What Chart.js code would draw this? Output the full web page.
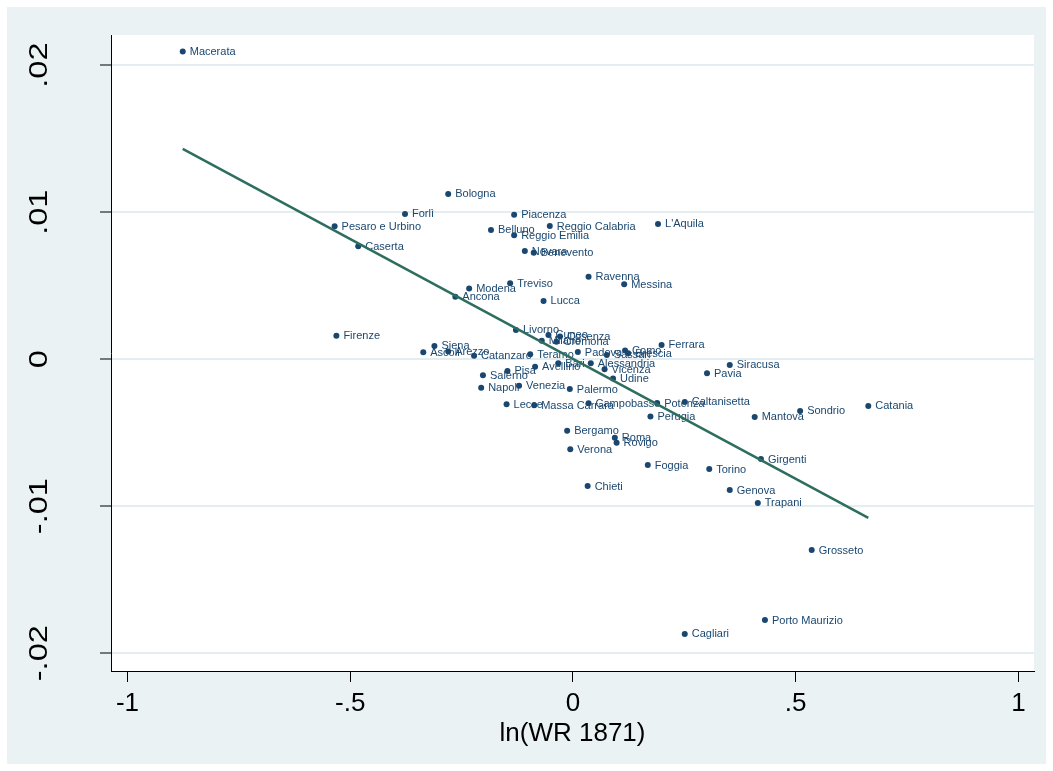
<!DOCTYPE html>
<html>
<head>
<meta charset="utf-8">
<script src="https://cdn.jsdelivr.net/npm/chart.js@4.4.0/dist/chart.umd.min.js"></script>
<style>
  html, body { margin: 0; padding: 0; background: #ffffff; }
  canvas { display: block; }
</style>
</head>
<body>
<canvas id="chart" width="1053" height="771"></canvas>
<script>
// Italian provinces: log wage ratio in 1871 against the outcome on the vertical axis
const provinces = [
  'Macerata', 'Bologna', 'Forlì', 'Pesaro e Urbino', 'Caserta', 'Piacenza', 'Belluno',
  'Reggio Emilia', 'Reggio Calabria', "L'Aquila", 'Novara', 'Benevento', 'Ravenna', 'Messina',
  'Treviso', 'Modena', 'Ancona', 'Lucca', 'Firenze', 'Siena', 'Ascoli', 'Arezzo',
  'Catanzaro', 'Livorno', 'Cuneo', 'Cosenza', 'Milano', 'Cremona', 'Teramo', 'Padova',
  'Sassari', 'Como', 'Brescia', 'Ferrara', 'Siracusa', 'Pavia', 'Bari', 'Alessandria',
  'Avellino', 'Vicenza', 'Udine', 'Pisa', 'Salerno', 'Napoli', 'Venezia', 'Palermo',
  'Lecce', 'Massa Carrara', 'Campobasso', 'Potenza', 'Caltanisetta', 'Perugia', 'Mantova',
  'Sondrio', 'Catania', 'Bergamo', 'Roma', 'Rovigo', 'Verona', 'Foggia', 'Torino',
  'Girgenti', 'Genova', 'Chieti', 'Trapani', 'Grosseto', 'Porto Maurizio', 'Cagliari'
];
const lnWR1871 = [
  -0.876, -0.280, -0.377, -0.535, -0.482, -0.132, -0.184,
  -0.132, -0.052, 0.191, -0.108, -0.088, 0.035, 0.115,
  -0.141, -0.233, -0.264, -0.066, -0.531, -0.311, -0.336, -0.280,
  -0.222, -0.128, -0.055, -0.029, -0.070, -0.037, -0.096, 0.011,
  0.076, 0.117, 0.124, 0.199, 0.352, 0.301, -0.033, 0.040,
  -0.085, 0.071, 0.090, -0.147, -0.202, -0.206, -0.121, -0.007,
  -0.149, -0.087, 0.035, 0.189, 0.251, 0.174, 0.408,
  0.510, 0.663, -0.013, 0.094, 0.098, -0.006, 0.168, 0.306,
  0.422, 0.352, 0.033, 0.415, 0.536, 0.431, 0.251
];
const outcome = [
  0.02092, 0.01124, 0.00988, 0.00904, 0.00768, 0.00983, 0.00879,
  0.00843, 0.00906, 0.00920, 0.00736, 0.00724, 0.00561, 0.00510,
  0.00516, 0.00481, 0.00425, 0.00396, 0.00160, 0.00090, 0.00047, 0.00052,
  0.00023, 0.00199, 0.00165, 0.00154, 0.00126, 0.00119, 0.00033, 0.00049,
  0.00029, 0.00059, 0.00040, 0.00097, -0.00039, -0.00096, -0.00028, -0.00028,
  -0.00051, -0.00068, -0.00131, -0.00080, -0.00110, -0.00194, -0.00180, -0.00203,
  -0.00306, -0.00314, -0.00300, -0.00298, -0.00291, -0.00390, -0.00393,
  -0.00352, -0.00318, -0.00486, -0.00535, -0.00568, -0.00613, -0.00720, -0.00747,
  -0.00679, -0.00890, -0.00863, -0.00978, -0.01298, -0.01774, -0.01869
];

// Fitted line, evaluated at the smallest and largest ln(WR 1871)
const fitX = [-0.876, 0.663];
const fitY = [0.0143, -0.0108];

const xTicks = [-1, -0.5, 0, 0.5, 1];
const xTickLabels = ['-1', '-.5', '0', '.5', '1'];
const yTicks = [-0.02, -0.01, 0, 0.01, 0.02];
const yTickLabels = ['-.02', '-.01', '0', '.01', '.02'];
const xTitle = 'ln(WR 1871)';

const FONT = '"Liberation Sans", Arial, sans-serif';
const NAVY = '#1a476f';

// Outer panel, plot-region fill
const panelBackground = {
  id: 'panelBackground',
  beforeDraw(chart) {
    const { ctx, chartArea: a, width, height } = chart;
    ctx.save();
    ctx.fillStyle = '#ffffff';
    ctx.fillRect(0, 0, width, height);
    ctx.fillStyle = '#eaf2f3';
    ctx.fillRect(7, 7, width - 14, height - 14);
    ctx.fillStyle = '#ffffff';
    ctx.fillRect(a.left, a.top, a.right - a.left, a.bottom - a.top);
    ctx.restore();
  }
};

// Province names to the right of each marker
const markerLabels = {
  id: 'markerLabels',
  afterDatasetDraw(chart, args) {
    if (args.index !== 0) return;
    const { ctx } = chart;
    const meta = args.meta;
    ctx.save();
    ctx.font = '11px ' + FONT;
    ctx.fillStyle = NAVY;
    ctx.textAlign = 'left';
    ctx.textBaseline = 'middle';
    meta.data.forEach((pt, i) => {
      ctx.fillText(provinces[i], pt.x + 7, pt.y + 0.5);
    });
    ctx.restore();
  }
};

// Vertical-axis tick labels, turned to read upward (slightly elongated glyphs)
const yTickText = {
  id: 'yTickText',
  afterDraw(chart) {
    const { ctx } = chart;
    const y = chart.scales.y;
    ctx.save();
    ctx.font = '26px ' + FONT;
    ctx.fillStyle = '#000000';
    ctx.textAlign = 'center';
    ctx.textBaseline = 'middle';
    yTicks.forEach((v, i) => {
      const py = y.getPixelForValue(v);
      ctx.save();
      ctx.translate(40, py);
      ctx.rotate(-Math.PI / 2);
      ctx.scale(1.25, 1);
      ctx.fillText(yTickLabels[i], 0, 0);
      ctx.restore();
    });
    ctx.restore();
  }
};

new Chart(document.getElementById('chart'), {
  type: 'scatter',
  data: {
    datasets: [
      {
        label: 'provinces',
        data: provinces.map((n, i) => ({ x: lnWR1871[i], y: outcome[i] })),
        backgroundColor: NAVY,
        borderColor: NAVY,
        pointRadius: 3,
        pointBorderWidth: 0,
        order: 1
      },
      {
        type: 'line',
        label: 'fit',
        data: fitX.map((x, i) => ({ x: x, y: fitY[i] })),
        borderColor: '#2d6e5f',
        borderWidth: 2.5,
        pointRadius: 0,
        fill: false,
        showLine: true,
        tension: 0,
        order: 0
      }
    ]
  },
  options: {
    responsive: false,
    animation: false,
    devicePixelRatio: 1,
    layout: { padding: { left: 7, right: 19, top: 35, bottom: 7 } },
    plugins: { legend: { display: false }, tooltip: { enabled: false } },
    scales: {
      x: {
        type: 'linear',
        min: -1.037,
        max: 1.035,
        afterBuildTicks: s => { s.ticks = xTicks.map(v => ({ value: v })); },
        afterFit: s => { s.height = 93; },
        ticks: {
          callback: v => xTickLabels[xTicks.indexOf(v)],
          font: { family: FONT, size: 26 },
          color: '#000000',
          padding: 6,
          maxRotation: 0,
          minRotation: 0,
          autoSkip: false
        },
        grid: { drawOnChartArea: false, drawTicks: true, tickLength: 11, tickColor: '#000000', tickWidth: 1 },
        border: { display: true, color: '#000000', width: 1 },
        title: {
          display: true,
          text: xTitle,
          font: { family: FONT, size: 26 },
          color: '#000000',
          padding: { top: 0, bottom: 15 }
        }
      },
      y: {
        type: 'linear',
        min: -0.02121,
        max: 0.02205,
        afterBuildTicks: s => { s.ticks = yTicks.map(v => ({ value: v })); },
        afterFit: s => { s.width = 104; },
        ticks: { display: false },
        grid: { color: '#e4edf0', lineWidth: 2, drawTicks: true, tickLength: 11, tickColor: '#000000', tickWidth: 1 },
        border: { display: true, color: '#000000', width: 1 }
      }
    }
  },
  plugins: [panelBackground, markerLabels, yTickText]
});
</script>
</body>
</html>
